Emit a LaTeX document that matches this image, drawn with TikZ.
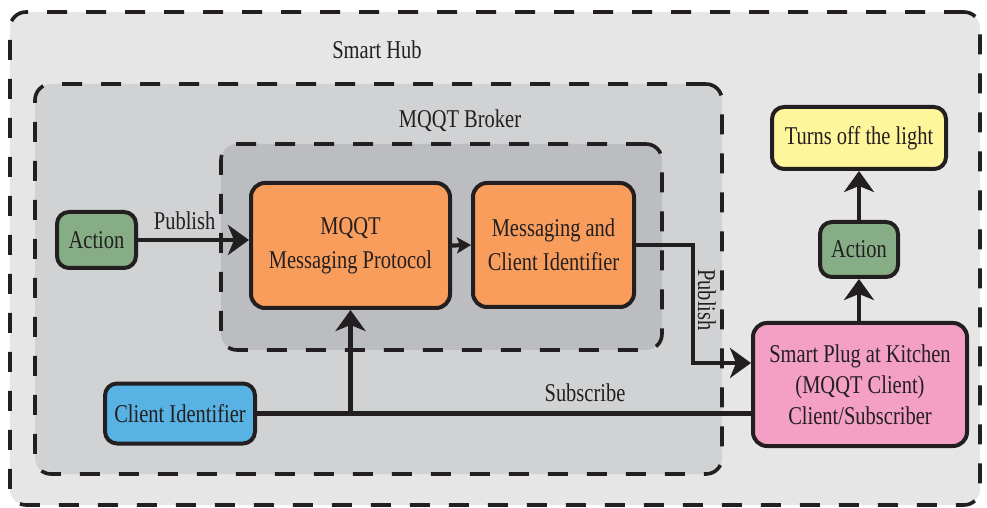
\documentclass[tikz,border=0pt]{standalone}
\usepackage{fontspec}
\setmainfont{Liberation Serif}[FakeStretch=0.8]
\usepackage{tikz}
\usetikzlibrary{arrows.meta, positioning, calc}

\definecolor{inkdark}{RGB}{35, 31, 32}
\definecolor{hubgray}{RGB}{230, 230, 231}
\definecolor{brokergray}{RGB}{209, 210, 212}
\definecolor{protogray}{RGB}{188, 189, 192}
\definecolor{orange1}{RGB}{249, 157, 93}
\definecolor{actgreen}{RGB}{134, 173, 133}
\definecolor{lightyellow}{RGB}{255, 245, 154}
\definecolor{plugpink}{RGB}{244, 159, 196}
\definecolor{clientblue}{RGB}{88, 178, 228}

\tikzset{
  zone/.style={draw=inkdark, line width=1.8pt, dash pattern=on 10pt off 9.5pt, rounded corners=8pt},
  block/.style={draw=inkdark, line width=2pt, rounded corners=6pt, align=center, inner sep=2pt, text=inkdark},
  link/.style={draw=inkdark, line width=2.1pt, -{Stealth[length=10.5pt, width=15pt, inset=3pt]}},
  shortlink/.style={draw=inkdark, line width=2.1pt, -{Stealth[length=7pt, width=8pt, inset=1.5pt]}},
  wire/.style={draw=inkdark, line width=2.1pt},
  tag/.style={text=inkdark, inner sep=1pt},
}

\begin{document}
\begin{tikzpicture}[x=0.5pt, y=-0.5pt, font=\fontsize{12.8}{15.5}\selectfont]
  \useasboundingbox (0,0) rectangle (987,508);

  % Containers
  \node[zone, fill=hubgray, minimum width=485pt, minimum height=246.5pt] (hub) at (495,258.5) {};
  \node[zone, fill=brokergray, minimum width=343.5pt, minimum height=195pt] (broker) at (378.5,279) {};
  \node[zone, fill=protogray, minimum width=220.5pt, minimum height=103pt] (proto) at (441.5,247) {};
  \node[tag] (hublbl) at (377,50) {Smart Hub};
  \node[tag] (brokerlbl) at (460,121) {MQQT Broker};

  % Broker blocks
  \node[block, fill=orange1, minimum width=99.5pt, minimum height=62.5pt, rounded corners=7pt] (msgproto) at (350.5,245.5) {MQQT\\[1.5pt] Messaging Protocol};
  \node[block, fill=orange1, minimum width=80.5pt, minimum height=62pt, rounded corners=7pt] (msgid) at (553.5,245) {Messaging and\\[1.5pt] Client Identifier};
  \node[block, fill=actgreen, minimum width=39.5pt, minimum height=28pt] (actleft) at (96.5,240) {Action};
  \node[block, fill=clientblue, minimum width=75pt, minimum height=30pt] (clientid) at (180,413.5) {Client Identifier};

  % Client side
  \node[block, fill=plugpink, minimum width=107pt, minimum height=61.5pt, rounded corners=7pt] (plug) at (860,384.5) {Smart Plug at Kitchen\\ (MQQT Client)\\ Client/Subscriber};
  \node[block, fill=actgreen, minimum width=39pt, minimum height=27.5pt] (actright) at (859,249.5) {Action};
  \node[block, fill=lightyellow, minimum width=87pt, minimum height=31pt] (light) at (859,138) {Turns off the light};

  % Connectors
  \draw[link] (actleft.east) -- (actleft.east -| msgproto.west) node[tag, pos=0.42, above=3pt] (publeft) {Publish};
  \draw[shortlink] (msgproto.east) -- (msgid.west);
  \draw[link] (msgid.east) -- ++(57,0) |- ([yshift=10.75pt]plug.west);
  \node[tag, rotate=-90] (pubright) at (707,300) {Publish};
  \draw[wire] (clientid.east) -- (clientid.east -| plug.west);
  \draw[link] (clientid.east -| msgproto.south) -- (msgproto.south);
  \node[tag] (sublbl) at (585,393) {Subscribe};
  \draw[link] (plug.north -| actright.south) -- (actright.south);
  \draw[link] (actright.north) -- (light.south);
\end{tikzpicture}
\end{document}
